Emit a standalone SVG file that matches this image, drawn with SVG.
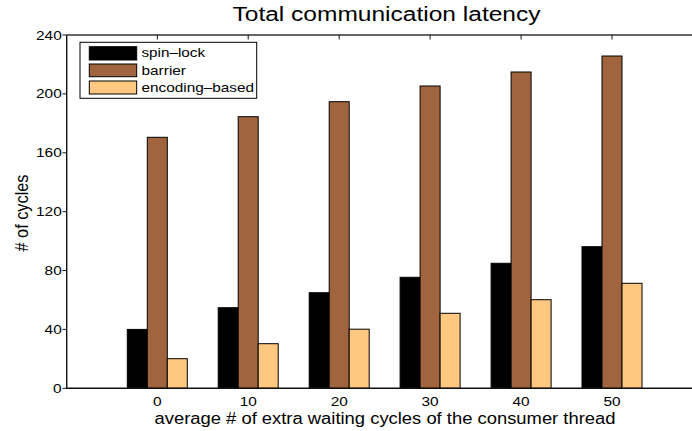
<svg xmlns="http://www.w3.org/2000/svg" width="692" height="431" viewBox="0 0 692 431">
  <style>
    text { font-family: "Liberation Sans", Arial, sans-serif; fill: #000; }
    .tick { font-size: 12.5px; }
    .ytl { text-anchor: end; }
    .xtl { text-anchor: middle; }
    .leg { font-size: 13px; }
    .axis { stroke: #111; stroke-width: 1.4; fill: none; }
    .topaxis { stroke: #333; stroke-width: 1.4; fill: none; }
    .tk { stroke: #111; stroke-width: 1; }
    .bar { stroke: #000; stroke-width: 1; }
    .spin { fill: #000000; }
    .barr { fill: #A0643F; }
    .enc { fill: #FFC880; }
  </style>

  <rect x="0" y="0" width="692" height="431" fill="#fff"/>

  <!-- title -->
  <text x="232.5" y="21" font-size="19.5" textLength="308" lengthAdjust="spacingAndGlyphs">Total communication latency</text>

  <!-- bars: spin-lock, barrier, encoding-based per group -->
  <g id="bars">
    <g id="group-0">
      <rect class="bar spin" x="127.3" y="329.4" width="20" height="58.9"/>
      <rect class="bar barr" x="147.3" y="137.3" width="20" height="251"/>
      <rect class="bar enc" x="167.3" y="358.7" width="20" height="29.6"/>
    </g>
    <g id="group-10">
      <rect class="bar spin" x="218.2" y="307.7" width="20" height="80.6"/>
      <rect class="bar barr" x="238.2" y="116.7" width="20" height="271.6"/>
      <rect class="bar enc" x="258.2" y="343.7" width="20" height="44.6"/>
    </g>
    <g id="group-20">
      <rect class="bar spin" x="309.2" y="292.7" width="20" height="95.6"/>
      <rect class="bar barr" x="329.2" y="101.7" width="20" height="286.6"/>
      <rect class="bar enc" x="349.2" y="329.2" width="20" height="59.1"/>
    </g>
    <g id="group-30">
      <rect class="bar spin" x="400.1" y="277.3" width="20" height="111"/>
      <rect class="bar barr" x="420.1" y="86" width="20" height="302.3"/>
      <rect class="bar enc" x="440.1" y="313.3" width="20" height="75"/>
    </g>
    <g id="group-40">
      <rect class="bar spin" x="491.1" y="263.3" width="20" height="125"/>
      <rect class="bar barr" x="511.1" y="72" width="20" height="316.3"/>
      <rect class="bar enc" x="531.1" y="299.7" width="20" height="88.6"/>
    </g>
    <g id="group-50">
      <rect class="bar spin" x="582" y="246.7" width="20" height="141.6"/>
      <rect class="bar barr" x="602" y="56" width="20" height="332.3"/>
      <rect class="bar enc" x="622" y="283.3" width="20" height="105"/>
    </g>
  </g>

  <!-- axes -->
  <g id="axes">
    <line class="topaxis" x1="66.7" y1="35" x2="692" y2="35"/>
    <line class="axis" x1="66.7" y1="35" x2="66.7" y2="388.3"/>
    <line class="axis" x1="66" y1="388.3" x2="692" y2="388.3"/>
    <!-- y ticks -->
    <path class="tk" d="M62.5 35H66.7M62.5 93.9H66.7M62.5 152.8H66.7M62.5 211.7H66.7M62.5 270.5H66.7M62.5 329.4H66.7M62.5 388.3H66.7"/>
    <!-- top ticks -->
    <path class="tk" d="M157.3 35V39.5M248.2 35V39.5M339.2 35V39.5M430.1 35V39.5M521.1 35V39.5M612 35V39.5"/>
  </g>

  <!-- y tick labels -->
  <g id="y-ticks" class="tick ytl">
    <text x="61.7" y="39.5" textLength="25.7" lengthAdjust="spacingAndGlyphs">240</text>
    <text x="61.7" y="98.4" textLength="25.7" lengthAdjust="spacingAndGlyphs">200</text>
    <text x="61.7" y="157.3" textLength="25.7" lengthAdjust="spacingAndGlyphs">160</text>
    <text x="61.7" y="216.2" textLength="25.7" lengthAdjust="spacingAndGlyphs">120</text>
    <text x="61.7" y="275" textLength="17.1" lengthAdjust="spacingAndGlyphs">80</text>
    <text x="61.7" y="333.9" textLength="17.1" lengthAdjust="spacingAndGlyphs">40</text>
    <text x="61.7" y="392.8" textLength="8.6" lengthAdjust="spacingAndGlyphs">0</text>
  </g>

  <!-- x tick labels -->
  <g id="x-ticks" class="tick xtl">
    <text x="157.3" y="405.5" textLength="8.6" lengthAdjust="spacingAndGlyphs">0</text>
    <text x="248.2" y="405.5" textLength="17.1" lengthAdjust="spacingAndGlyphs">10</text>
    <text x="339.2" y="405.5" textLength="17.1" lengthAdjust="spacingAndGlyphs">20</text>
    <text x="430.1" y="405.5" textLength="17.1" lengthAdjust="spacingAndGlyphs">30</text>
    <text x="521.1" y="405.5" textLength="17.1" lengthAdjust="spacingAndGlyphs">40</text>
    <text x="612" y="405.5" textLength="17.1" lengthAdjust="spacingAndGlyphs">50</text>
  </g>

  <!-- axis labels -->
  <text x="154.5" y="423.8" font-size="16" textLength="461" lengthAdjust="spacingAndGlyphs">average # of extra waiting cycles of the consumer thread</text>
  <text transform="translate(27.7 213) scale(1.2 1) rotate(-90)" font-size="16" text-anchor="middle" textLength="77" lengthAdjust="spacingAndGlyphs"># of cycles</text>

  <!-- legend -->
  <g id="legend">
    <rect x="80" y="42.3" width="176.7" height="56" fill="#fff" stroke="#000" stroke-width="1"/>
    <rect class="bar spin" x="89.3" y="46.7" width="47.4" height="13.3"/>
    <rect class="bar barr" x="89.3" y="64" width="47.4" height="12.7"/>
    <rect class="bar enc" x="89.3" y="81" width="47.4" height="13"/>
    <text class="leg" x="141.5" y="57.3" textLength="63.5" lengthAdjust="spacingAndGlyphs">spin–lock</text>
    <text class="leg" x="141.5" y="74.6" textLength="44.5" lengthAdjust="spacingAndGlyphs">barrier</text>
    <text class="leg" x="141.5" y="92.3" textLength="112.5" lengthAdjust="spacingAndGlyphs">encoding–based</text>
  </g>
</svg>
